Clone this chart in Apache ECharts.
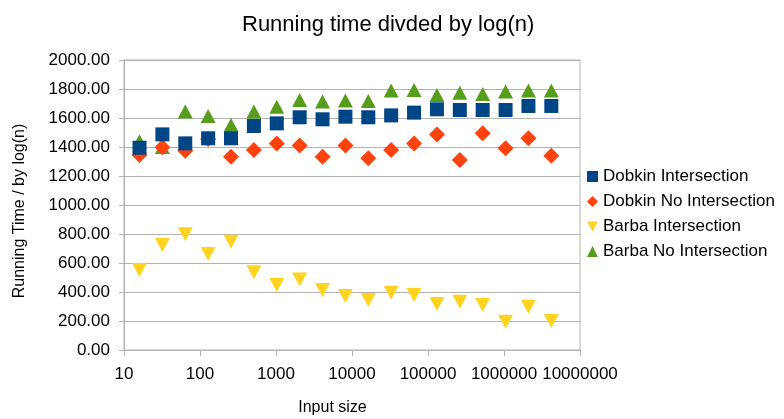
<!DOCTYPE html>
<html>
<head>
<meta charset="utf-8">
<script src="https://cdn.jsdelivr.net/npm/echarts@6/dist/echarts.min.js"></script>
<style>html,body{margin:0;padding:0;background:#fff}#c{width:784px;height:419px}</style>
</head>
<body>
<div id="c"></div>
<script>
const inputSizes = [16, 32, 64, 128, 256, 512, 1024, 2048, 4096, 8192, 16384, 32768, 65536, 131072, 262144, 524288, 1048576, 2097152, 4194304];
const dobkinIntersection = [1395, 1487, 1425, 1460, 1460, 1545, 1563, 1605, 1591, 1609, 1605, 1618, 1637, 1660, 1655, 1655, 1655, 1683, 1683];
const dobkinNoIntersection = [1345, 1398, 1375, 1455, 1333, 1379, 1425, 1411, 1333, 1411, 1322, 1379, 1425, 1487, 1310, 1494, 1391, 1460, 1340];
const barbaIntersection = [552, 724, 798, 662, 747, 536, 448, 487, 414, 372, 345, 395, 379, 317, 333, 310, 195, 299, 200];
const barbaNoIntersection = [1440, 1400, 1644, 1614, 1552, 1644, 1678, 1724, 1713, 1720, 1717, 1789, 1793, 1759, 1775, 1766, 1782, 1789, 1789];
const seriesNames = ['Dobkin Intersection', 'Dobkin No Intersection', 'Barba Intersection', 'Barba No Intersection'];
const yTicks = [0, 200, 400, 600, 800, 1000, 1200, 1400, 1600, 1800, 2000];

const FONT = 'Liberation Sans';
const pairs = arr => inputSizes.map((x, i) => [x, arr[i]]);
const chart = echarts.init(document.getElementById('c'), null, {renderer: 'canvas'});
chart.setOption({
  animation: false,
  backgroundColor: '#fff',
  title: {
    text: 'Running time divded by log(n)',
    left: 237, top: 9,
    textStyle: {fontFamily: FONT, fontSize: 22, fontWeight: 'normal', color: '#000'}
  },
  legend: {
    orient: 'vertical', left: 582, top: 163,
    itemWidth: 11, itemHeight: 11, itemGap: 8,
    textStyle: {fontFamily: FONT, fontSize: 17, color: '#000'},
    data: seriesNames
  },
  grid: {left: 124, right: 204, top: 60, bottom: 69, show: true, borderColor: '#b3b3b3', borderWidth: 1,
    containLabel: false, outerBoundsMode: 'none'},
  xAxis: {
    type: 'log', logBase: 10, min: 10, max: 10000000,
    name: 'Input size', nameLocation: 'middle', nameGap: 50,
    nameTextStyle: {fontFamily: FONT, fontSize: 16, color: '#000', padding: [0, 39, 0, 0]},
    axisLine: {show: true, lineStyle: {color: '#b3b3b3'}},
    axisTick: {show: true, length: 6, lineStyle: {color: '#b3b3b3'}},
    splitLine: {show: false},
    minorTick: {show: false},
    axisLabel: {fontFamily: FONT, fontSize: 17, color: '#000', margin: 16,
      formatter: v => String(Math.round(v))}
  },
  yAxis: {
    type: 'value', min: yTicks[0], max: yTicks[yTicks.length - 1], interval: yTicks[1] - yTicks[0],
    name: 'Running Time / by log(n)', nameLocation: 'middle', nameGap: 96, nameRotate: 90,
    nameTextStyle: {fontFamily: FONT, fontSize: 16, color: '#000', padding: [0, 12, 0, 0]},
    axisLine: {show: true, lineStyle: {color: '#b3b3b3'}},
    axisTick: {show: true, length: 5, lineStyle: {color: '#b3b3b3'}},
    splitLine: {show: true, lineStyle: {color: '#b3b3b3'}},
    axisLabel: {fontFamily: FONT, fontSize: 17, color: '#000', margin: 14,
      formatter: v => v.toFixed(2)}
  },
  series: [
    {name: seriesNames[0], type: 'scatter', z: 5, symbol: 'rect', symbolSize: 14,
     itemStyle: {color: '#004586', opacity: 1}, data: pairs(dobkinIntersection)},
    {name: seriesNames[1], type: 'scatter', z: 4, symbol: 'diamond', symbolSize: 16,
     itemStyle: {color: '#ff420e', opacity: 1}, data: pairs(dobkinNoIntersection)},
    {name: seriesNames[2], type: 'scatter', z: 3, symbol: 'path://M0,0 L10,0 L5,9 Z', symbolSize: [15, 14],
     itemStyle: {color: '#ffd320', opacity: 1}, data: pairs(barbaIntersection)},
    {name: seriesNames[3], type: 'scatter', z: 2, symbol: 'triangle', symbolSize: [15, 14],
     itemStyle: {color: '#579d1c', opacity: 1}, data: pairs(barbaNoIntersection)}
  ]
});
</script>
</body>
</html>
